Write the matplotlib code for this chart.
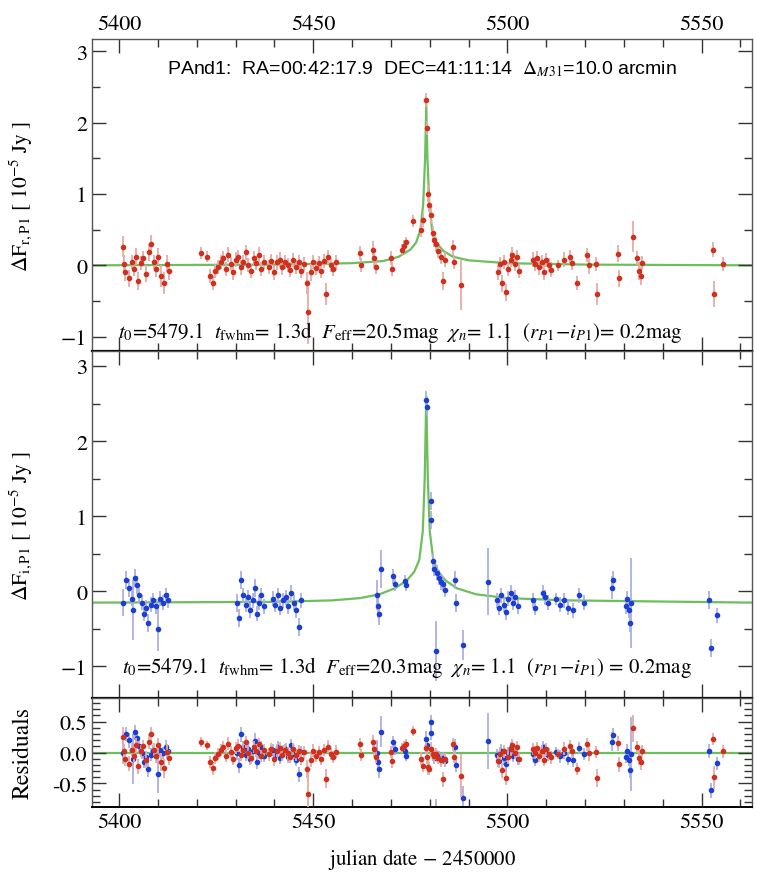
import matplotlib.pyplot as plt
import numpy as np
from matplotlib.ticker import MultipleLocator

plt.rcParams['font.family'] = ['STIXGeneral', 'DejaVu Serif']
plt.rcParams['mathtext.fontset'] = 'stix'

# r-band (top panel) photometry: time, flux, error
r_t = [5401.0, 5401.3, 5401.6, 5402.5, 5403.2, 5403.8, 5404.3, 5404.9, 5405.6, 5406.2,
       5407.0, 5407.8, 5408.3, 5408.9, 5409.5, 5410.1, 5410.8, 5411.5, 5412.2, 5412.8,
       5421.0, 5422.5, 5423.5, 5424.2, 5424.8, 5425.5, 5426.1, 5426.8, 5427.4, 5428.0,
       5428.7, 5429.3, 5430.0, 5430.7, 5431.3, 5432.0, 5432.6, 5433.3, 5434.0, 5434.6,
       5435.3, 5436.0, 5436.6, 5437.3, 5438.5, 5439.2, 5439.9, 5440.6, 5441.3, 5442.0,
       5442.7, 5443.4, 5444.1, 5444.8, 5445.5, 5446.2, 5446.9, 5447.6, 5448.3, 5448.7,
       5449.4, 5450.0, 5450.7, 5451.4, 5452.0, 5452.7, 5453.2, 5453.8, 5454.5, 5455.2,
       5455.9, 5462.0, 5462.3, 5465.3, 5465.7, 5466.2, 5470.0, 5470.3, 5472.8, 5473.3,
       5473.8, 5475.8, 5477.8, 5478.3, 5479.1, 5479.2, 5479.6, 5479.7, 5480.3, 5480.8,
       5481.2, 5481.7, 5482.2, 5482.8, 5483.3, 5484.0, 5486.0, 5486.3, 5488.0, 5497.5,
       5498.0, 5498.6, 5499.2, 5499.6, 5500.2, 5500.8, 5501.3, 5501.9, 5502.5, 5503.0,
       5506.5, 5507.0, 5507.6, 5508.2, 5508.8, 5509.3, 5510.0, 5510.6, 5511.2, 5513.0,
       5514.5, 5516.0, 5516.6, 5518.0, 5520.5, 5521.0, 5522.7, 5523.0, 5528.5, 5528.8,
       5532.3, 5533.5, 5533.9, 5534.3, 5534.7, 5553.0, 5553.3, 5555.5]
r_f = [0.26, 0.02, -0.10, -0.18, 0.05, -0.05, 0.12, -0.22, 0.03, 0.10,
       -0.12, 0.18, 0.30, 0.05, -0.05, 0.12, -0.15, -0.25, 0.02, -0.08,
       0.17, 0.12, -0.15, -0.25, -0.08, -0.02, 0.05, 0.10, -0.05, 0.15,
       0.02, -0.10, 0.08, 0.12, -0.03, 0.05, 0.18, 0.00, -0.08, 0.10,
       0.03, 0.15, -0.05, 0.05, -0.02, 0.06, -0.10, 0.04, 0.08, -0.03,
       0.05, 0.00, -0.06, 0.07, -0.02, 0.04, -0.08, 0.02, -0.25, -0.65,
       -0.10, 0.05, -0.04, 0.03, -0.08, 0.06, -0.40, 0.12, 0.00, -0.05,
       0.04, 0.17, 0.00, 0.22, 0.10, -0.02, 0.10, -0.05, 0.22, 0.27,
       0.32, 0.62, 0.50, 0.63, 2.32, 1.92, 1.00, 0.85, 0.70, 0.45,
       0.35, 0.30, 0.20, 0.12, -0.22, 0.08, 0.25, 0.05, -0.28, -0.10,
       0.02, -0.25, 0.05, -0.38, -0.05, 0.08, 0.15, 0.02, 0.12, -0.08,
       0.08, 0.02, 0.10, -0.03, 0.05, -0.10, 0.07, 0.00, -0.06, 0.00,
       0.08, 0.12, 0.03, -0.25, 0.14, 0.00, 0.02, -0.40, 0.16, -0.18,
       0.40, 0.10, -0.08, -0.15, 0.03, 0.22, -0.40, 0.02]
r_e = [0.15, 0.12, 0.12, 0.12, 0.10, 0.10, 0.12, 0.12, 0.10, 0.10,
       0.12, 0.12, 0.12, 0.10, 0.12, 0.12, 0.15, 0.15, 0.12, 0.12,
       0.08, 0.08, 0.10, 0.10, 0.10, 0.10, 0.10, 0.10, 0.10, 0.10,
       0.10, 0.10, 0.10, 0.10, 0.10, 0.10, 0.10, 0.10, 0.10, 0.10,
       0.10, 0.10, 0.10, 0.10, 0.10, 0.10, 0.10, 0.10, 0.10, 0.10,
       0.10, 0.10, 0.10, 0.10, 0.10, 0.10, 0.10, 0.10, 0.15, 0.45,
       0.12, 0.10, 0.10, 0.10, 0.10, 0.10, 0.15, 0.10, 0.10, 0.10,
       0.10, 0.10, 0.10, 0.12, 0.12, 0.10, 0.10, 0.10, 0.08, 0.08,
       0.08, 0.08, 0.10, 0.10, 0.10, 0.10, 0.12, 0.10, 0.12, 0.10,
       0.10, 0.10, 0.10, 0.10, 0.12, 0.10, 0.10, 0.10, 0.35, 0.10,
       0.10, 0.12, 0.10, 0.12, 0.10, 0.10, 0.10, 0.10, 0.10, 0.10,
       0.10, 0.10, 0.10, 0.10, 0.10, 0.10, 0.10, 0.10, 0.10, 0.08,
       0.10, 0.10, 0.10, 0.10, 0.10, 0.12, 0.10, 0.15, 0.12, 0.12,
       0.22, 0.10, 0.12, 0.12, 0.10, 0.10, 0.18, 0.10]

# i-band (middle panel) photometry: time, flux, error
i_t = [5401.0, 5401.8, 5402.5, 5403.3, 5403.5, 5404.0, 5404.6, 5405.2, 5405.8, 5406.4,
       5407.0, 5407.5, 5408.2, 5408.8, 5409.5, 5410.0, 5410.6, 5411.3, 5412.0, 5412.6,
       5430.3, 5430.8, 5431.4, 5432.0, 5432.6, 5433.2, 5433.8, 5434.4, 5435.0, 5435.5,
       5436.0, 5436.6, 5437.3, 5439.5, 5440.2, 5440.8, 5441.5, 5442.2, 5442.9, 5443.6,
       5444.3, 5445.0, 5445.6, 5446.3, 5446.9, 5466.3, 5466.6, 5466.9, 5467.4, 5470.5,
       5471.0, 5473.5, 5474.0, 5479.0, 5479.2, 5480.2, 5480.4, 5480.9, 5481.2, 5481.5,
       5481.8, 5482.3, 5482.8, 5483.4, 5484.0, 5486.5, 5486.8, 5488.5, 5495.0, 5497.2,
       5497.8, 5498.4, 5499.0, 5499.6, 5500.2, 5500.8, 5501.4, 5502.0, 5502.6, 5506.5,
       5507.2, 5509.2, 5509.8, 5510.5, 5512.5, 5513.5, 5514.5, 5515.5, 5517.0, 5518.5,
       5519.8, 5527.0, 5527.3, 5530.5, 5530.8, 5531.2, 5531.6, 5531.9, 5552.0, 5552.4,
       5554.0]
i_f = [-0.15, 0.15, 0.05, -0.10, -0.25, 0.18, 0.08, -0.05, -0.15, -0.30,
       -0.22, -0.42, -0.18, -0.12, -0.20, -0.50, -0.10, -0.15, -0.05, -0.12,
       -0.15, -0.35, 0.15, -0.05, -0.18, -0.08, -0.25, -0.12, 0.05, -0.30,
       -0.15, -0.05, -0.20, -0.10, -0.18, -0.05, -0.22, -0.12, -0.08, -0.20,
       -0.02, -0.15, -0.25, -0.48, -0.12, -0.05, -0.20, -0.30, 0.30, 0.20,
       0.10, 0.14, 0.08, 2.55, 2.45, 1.20, 0.95, 0.40, 0.30, -0.80,
       0.25, 0.18, 0.12, 0.10, 0.02, 0.15, -0.15, -0.72, 0.13, -0.12,
       -0.22, -0.05, -0.18, -0.28, -0.10, -0.02, -0.15, -0.08, -0.20, -0.12,
       -0.22, -0.02, -0.08, -0.15, -0.10, -0.18, -0.12, -0.22, -0.25, -0.05,
       -0.15, 0.05, 0.15, -0.20, -0.10, -0.25, -0.42, -0.15, -0.12, -0.75,
       -0.32]
i_e = [0.18, 0.12, 0.12, 0.10, 0.40, 0.12, 0.12, 0.10, 0.10, 0.10,
       0.10, 0.12, 0.10, 0.10, 0.10, 0.30, 0.10, 0.10, 0.10, 0.10,
       0.12, 0.12, 0.12, 0.10, 0.10, 0.10, 0.10, 0.10, 0.12, 0.10,
       0.10, 0.10, 0.10, 0.10, 0.10, 0.10, 0.10, 0.10, 0.10, 0.10,
       0.10, 0.10, 0.10, 0.12, 0.10, 0.20, 0.15, 0.15, 0.25, 0.10,
       0.10, 0.08, 0.08, 0.12, 0.12, 0.12, 0.12, 0.10, 0.10, 0.40,
       0.10, 0.10, 0.10, 0.10, 0.10, 0.12, 0.12, 0.20, 0.45, 0.10,
       0.10, 0.10, 0.10, 0.10, 0.10, 0.10, 0.10, 0.10, 0.10, 0.10,
       0.10, 0.10, 0.10, 0.10, 0.08, 0.10, 0.10, 0.10, 0.10, 0.10,
       0.10, 0.15, 0.12, 0.10, 0.10, 0.10, 0.12, 0.60, 0.12, 0.12,
       0.10]

# fitted light curves
r_model_t = [5393, 5440, 5460, 5468, 5472, 5475, 5476.5, 5477.6, 5478.3, 5478.8, 5479.1,
             5479.4, 5479.9, 5480.6, 5481.7, 5483.5, 5486, 5490, 5500, 5520, 5563]
r_model_f = [0.00, 0.01, 0.03, 0.06, 0.12, 0.22, 0.32, 0.50, 0.85, 1.50, 2.25,
             1.50, 0.85, 0.50, 0.32, 0.20, 0.12, 0.07, 0.03, 0.01, 0.00]
i_model_t = [5393, 5440, 5455, 5462, 5467, 5471, 5474, 5476, 5477.3, 5478.2, 5478.7, 5479.1,
             5479.5, 5480.0, 5480.9, 5482.2, 5484.2, 5487, 5492, 5500, 5515, 5563]
i_model_f = [-0.15, -0.14, -0.12, -0.09, -0.04, 0.04, 0.14, 0.26, 0.42, 0.80, 1.50, 2.60,
             1.50, 0.80, 0.42, 0.26, 0.14, 0.04, -0.04, -0.09, -0.12, -0.15]

r_txt = (r'$t_0$=5479.1  $t_{\rm fwhm}$= 1.3d  $F_{\rm eff}$=20.5mag  '
         r'$\chi_n$= 1.1  ($r_{P1}\!-\!i_{P1}$)= 0.2mag')
i_txt = (r'$t_0$=5479.1  $t_{\rm fwhm}$= 1.3d  $F_{\rm eff}$=20.3mag  '
         r'$\chi_n$= 1.1  ($r_{P1}\!-\!i_{P1}$) = 0.2mag')
head_txt = r'PAnd1:  RA=00:42:17.9  DEC=41:11:14  $\Delta_{M31}$=10.0 arcmin'

red, red_err = '#d0301e', '#e6aaa6'
blue, blue_err = '#1c3fd0', '#aab0e0'
green = '#6cbf5c'

# residuals relative to the fitted curves
r_res = np.array(r_f) - np.interp(r_t, r_model_t, r_model_f)
i_res = np.array(i_f) - np.interp(i_t, i_model_t, i_model_f)

fig, (ax1, ax2, ax3) = plt.subplots(3, 1, figsize=(7.57, 8.78), dpi=100, sharex=True,
                                    gridspec_kw={'height_ratios': [312, 347, 109]})
fig.subplots_adjust(left=92/757, right=752/757, top=1-40/878, bottom=1-808/878, hspace=0)

# top panel
ax1.plot(r_model_t, r_model_f, color=green, lw=1.6, zorder=1)
ax1.errorbar(r_t, r_f, yerr=r_e, fmt='o', ms=3, color=red, ecolor=red_err,
             elinewidth=1.3, capsize=0, zorder=2)
ax1.set_ylim(-1.2, 3.17)
ax1.set_ylabel(r'$\Delta\mathrm{F}_{\mathrm{r,P1}}$ [ $10^{-5}$ Jy ]', fontsize=15.5)
ax1.text(0.5, 0.905, head_txt, transform=ax1.transAxes, ha='center', va='center',
         fontsize=14, family='Liberation Sans')
ax1.text(0.04, 0.062, r_txt, transform=ax1.transAxes, ha='left', va='center', fontsize=15)

# middle panel
ax2.plot(i_model_t, i_model_f, color=green, lw=1.6, zorder=1)
ax2.errorbar(i_t, i_f, yerr=i_e, fmt='o', ms=3, color=blue, ecolor=blue_err,
             elinewidth=1.3, capsize=0, zorder=2)
ax2.set_ylim(-1.42, 3.2)
ax2.set_ylabel(r'$\Delta\mathrm{F}_{\mathrm{i,P1}}$ [ $10^{-5}$ Jy ]', fontsize=15.5)
ax2.text(0.045, 0.09, i_txt, transform=ax2.transAxes, ha='left', va='center', fontsize=15)

# residual panel
ax3.axhline(0, color=green, lw=1.6, zorder=1)
ax3.errorbar(i_t, i_res, yerr=i_e, fmt='o', ms=3, color=blue, ecolor=blue_err,
             elinewidth=1.3, capsize=0, zorder=2)
ax3.errorbar(r_t, r_res, yerr=r_e, fmt='o', ms=3, color=red, ecolor=red_err,
             elinewidth=1.3, capsize=0, zorder=3)
ax3.set_ylim(-0.88, 0.88)
ax3.set_ylabel('Residuals', fontsize=17)
ax3.set_xlabel('julian date $-$ 2450000', fontsize=15, labelpad=10)
ax3.set_xlim(5393, 5563)

for ax in (ax1, ax2):
    ax.yaxis.set_major_locator(MultipleLocator(1))
    ax.yaxis.set_minor_locator(MultipleLocator(0.5))
ax3.yaxis.set_major_locator(MultipleLocator(0.5))
ax3.yaxis.set_minor_locator(MultipleLocator(0.1))
ax3.yaxis.set_major_formatter(plt.FormatStrFormatter('%.1f'))

for ax in (ax1, ax2, ax3):
    ax.xaxis.set_major_locator(MultipleLocator(50))
    ax.xaxis.set_minor_locator(MultipleLocator(10))
    ax.tick_params(which='both', direction='in', top=True, right=True, labelsize=16,
                   color='#333333')
    ax.tick_params(which='major', length=10, width=1)
    ax.tick_params(which='minor', length=6, width=1)
    ax.yaxis.set_label_coords(-0.088, 0.5)
    for s in ax.spines.values():
        s.set_color('#555555')
        s.set_linewidth(1.0)

ax1.tick_params(labeltop=True, labelbottom=False)
ax2.tick_params(labelbottom=False)
ax1.spines['bottom'].set_color('black')
ax1.spines['bottom'].set_linewidth(1.6)
ax2.spines['bottom'].set_color('black')
ax2.spines['bottom'].set_linewidth(1.6)
ax3.spines['bottom'].set_color('black')
ax3.spines['bottom'].set_linewidth(1.4)

plt.savefig('out.png', dpi=100)
